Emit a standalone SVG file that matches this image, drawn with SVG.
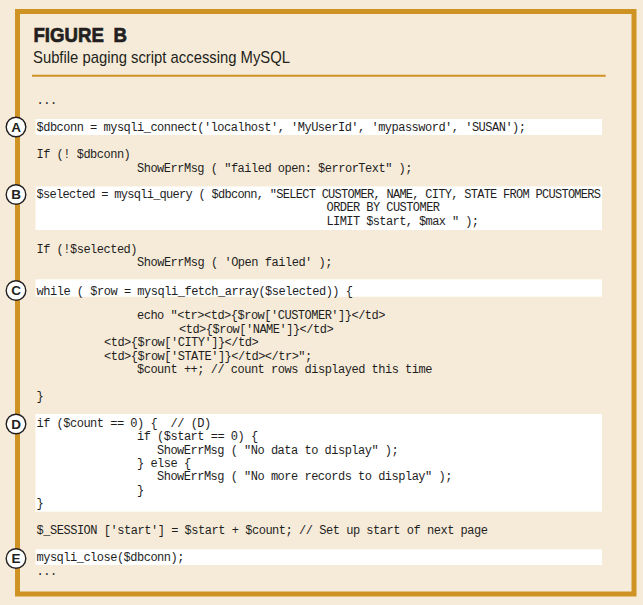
<svg xmlns="http://www.w3.org/2000/svg" width="643" height="605" viewBox="0 0 643 605">
<style>
.code{font-family:"Liberation Mono","DejaVu Sans Mono",monospace;font-size:12px;letter-spacing:-0.5px;fill:#1e1e1e;white-space:pre}
.band{fill:#ffffff}
.mk circle{fill:#ffffff;stroke:#231f20;stroke-width:1.4}
.mk text{font-family:"Liberation Sans",Arial,sans-serif;font-weight:bold;font-size:13.5px;fill:#231f20;text-anchor:middle}
.ttl{font-family:"Liberation Sans",Arial,sans-serif;font-weight:bold;font-size:20.5px;fill:#231f20;stroke:#231f20;stroke-width:0.7;word-spacing:5px}
</style>
<rect x="0" y="0" width="643" height="605" fill="#f6ebd8"/>
<g id="frame">
<rect x="17.5" y="11.5" width="616.5" height="582.5" fill="none" stroke="#cf9324" stroke-width="5"/>
<line x1="32" y1="75.7" x2="605.7" y2="75.7" stroke="#cf9324" stroke-width="2"/>
</g>
<g id="title">
<text class="ttl" x="33.5" y="42" textLength="93.5" lengthAdjust="spacingAndGlyphs">FIGURE B</text>
<text x="33" y="62.7" font-family="Liberation Sans,Arial,sans-serif" font-size="17" fill="#231f20" textLength="257" lengthAdjust="spacingAndGlyphs">Subfile paging script accessing MySQL</text>
</g>
<g id="bands">
<rect class="band" x="35.5" y="119" width="566.5" height="16"/>
<rect class="band" x="35.5" y="186.5" width="566.5" height="43.5"/>
<rect class="band" x="35.5" y="279.3" width="566.5" height="17.4"/>
<rect class="band" x="35.5" y="414" width="566.5" height="97.7"/>
<rect class="band" x="35.5" y="549.3" width="566.5" height="15.7"/>
</g>
<g id="code" xml:space="preserve">
<text class="code" x="36.5" y="104">...</text>
<text class="code" x="36.5" y="131" textLength="489" lengthAdjust="spacing">$dbconn = mysqli_connect('localhost', 'MyUserId', 'mypassword', 'SUSAN');</text>
<text class="code" x="36.5" y="158">If (! $dbconn)</text>
<text class="code" x="137" y="171.5" textLength="275" lengthAdjust="spacing">ShowErrMsg ( "failed open: $errorText" );</text>
<text class="code" x="36.5" y="197.5" textLength="564" lengthAdjust="spacing">$selected = mysqli_query ( $dbconn, "SELECT CUSTOMER, NAME, CITY, STATE FROM PCUSTOMERS</text>
<text class="code" x="326.5" y="211" textLength="113" lengthAdjust="spacing">ORDER BY CUSTOMER</text>
<text class="code" x="326.5" y="224.5" textLength="152" lengthAdjust="spacing">LIMIT $start, $max " );</text>
<text class="code" x="36.5" y="253">If (!$selected)</text>
<text class="code" x="137" y="266" textLength="195" lengthAdjust="spacing">ShowErrMsg ( 'Open failed' );</text>
<text class="code" x="36.5" y="294.5" textLength="316" lengthAdjust="spacing">while ( $row = mysqli_fetch_array($selected)) {</text>
<text class="code" x="137" y="319">echo "&lt;tr&gt;&lt;td&gt;{$row['CUSTOMER']}&lt;/td&gt;</text>
<text class="code" x="179" y="332.5">&lt;td&gt;{$row['NAME']}&lt;/td&gt;</text>
<text class="code" x="104" y="346">&lt;td&gt;{$row['CITY']}&lt;/td&gt;</text>
<text class="code" x="104" y="359.5">&lt;td&gt;{$row['STATE']}&lt;/td&gt;&lt;/tr&gt;";</text>
<text class="code" x="137" y="373">$count ++; // count rows displayed this time</text>
<text class="code" x="36.5" y="400">}</text>
<text class="code" x="36.5" y="427">if ($count == 0) {  // (D)</text>
<text class="code" x="137" y="440.3">if ($start == 0) {</text>
<text class="code" x="157" y="453.6">ShowErrMsg ( "No data to display" );</text>
<text class="code" x="137" y="467">} else {</text>
<text class="code" x="157" y="480.3">ShowErrMsg ( "No more records to display" );</text>
<text class="code" x="137" y="493.6">}</text>
<text class="code" x="36.5" y="507">}</text>
<text class="code" x="36.5" y="534" textLength="451" lengthAdjust="spacing">$_SESSION ['start'] = $start + $count; // Set up start of next page</text>
<text class="code" x="36.5" y="561">mysqli_close($dbconn);</text>
<text class="code" x="36.5" y="575">...</text>
</g>
<g id="marker-A" class="mk"><circle cx="16" cy="127" r="9.8"/><text x="16" y="131.8">A</text></g>
<g id="marker-B" class="mk"><circle cx="16" cy="194.5" r="9.8"/><text x="16" y="199.3">B</text></g>
<g id="marker-C" class="mk"><circle cx="16" cy="290.5" r="9.8"/><text x="16" y="295.3">C</text></g>
<g id="marker-D" class="mk"><circle cx="16" cy="424" r="9.8"/><text x="16" y="428.8">D</text></g>
<g id="marker-E" class="mk"><circle cx="16" cy="558.5" r="9.8"/><text x="16" y="563.3">E</text></g>
</svg>
